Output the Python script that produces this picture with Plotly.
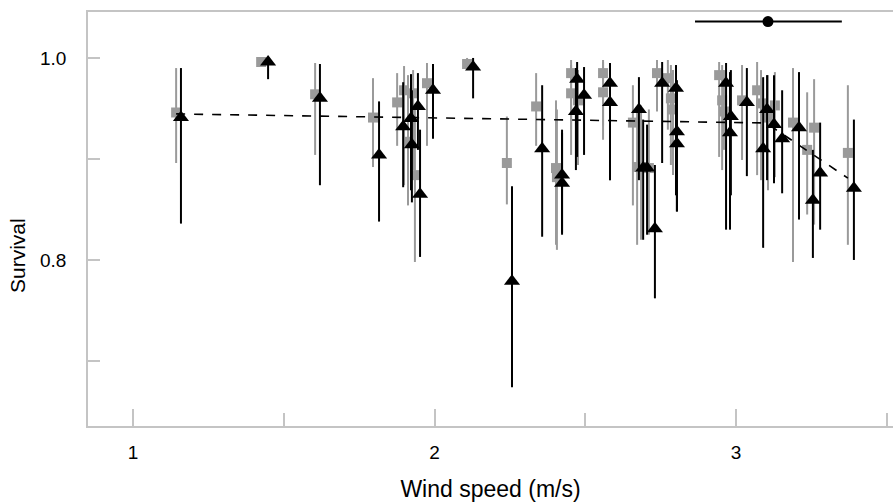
import plotly.graph_objects as go

# Gray squares series: wind speed, survival, lower CI, upper CI
sq_wind = [1.143, 1.425, 1.604, 1.796, 1.876, 1.899, 1.912, 1.929, 1.935, 1.975,
           2.108, 2.240, 2.337, 2.403, 2.406, 2.453, 2.453, 2.476, 2.559, 2.559,
           2.658, 2.672, 2.685, 2.711, 2.738, 2.774, 2.784, 2.791, 2.944, 2.954,
           2.960, 3.020, 3.070, 3.083, 3.106, 3.129, 3.189, 3.236, 3.259, 3.371]
sq_surv = [0.946, 0.996, 0.964, 0.941, 0.956, 0.968, 0.917, 0.965, 0.884, 0.975,
           0.994, 0.896, 0.952, 0.891, 0.882, 0.985, 0.965, 0.958, 0.985, 0.966,
           0.936, 0.892, 0.892, 0.891, 0.985, 0.980, 0.960, 0.949, 0.983, 0.958,
           0.947, 0.958, 0.968, 0.955, 0.941, 0.953, 0.936, 0.909, 0.931, 0.906]
sq_lo = [0.896, 0.994, 0.904, 0.892, 0.913, 0.874, 0.854, 0.889, 0.798, 0.913,
         0.988, 0.855, 0.913, 0.815, 0.810, 0.929, 0.904, 0.894, 0.933, 0.919,
         0.854, 0.815, 0.820, 0.825, 0.947, 0.929, 0.894, 0.884, 0.902, 0.889,
         0.909, 0.899, 0.884, 0.879, 0.869, 0.882, 0.798, 0.845, 0.835, 0.815]
sq_hi = [0.990, 0.998, 0.995, 0.980, 0.985, 0.992, 0.983, 0.988, 0.949, 0.995,
         1.000, 0.942, 0.985, 0.958, 0.949, 0.998, 0.993, 0.988, 0.998, 0.996,
         0.973, 0.949, 0.953, 0.949, 0.998, 0.998, 0.993, 0.988, 0.996, 0.993,
         0.988, 0.993, 0.996, 0.988, 0.983, 0.986, 0.990, 0.966, 0.979, 0.973]

# Black triangles series
tri_wind = [1.159, 1.448, 1.620, 1.816, 1.896, 1.922, 1.925, 1.945, 1.952, 1.995,
            2.128, 2.257, 2.357, 2.423, 2.423, 2.473, 2.469, 2.496, 2.582, 2.582,
            2.678, 2.692, 2.705, 2.731, 2.755, 2.801, 2.804, 2.804, 2.967, 2.983,
            2.980, 3.036, 3.090, 3.103, 3.126, 3.153, 3.209, 3.255, 3.279, 3.391]
tri_surv = [0.941, 0.996, 0.960, 0.904, 0.932, 0.940, 0.914, 0.952, 0.865, 0.968,
            0.991, 0.779, 0.910, 0.884, 0.876, 0.979, 0.947, 0.963, 0.975, 0.956,
            0.949, 0.891, 0.891, 0.831, 0.975, 0.970, 0.927, 0.915, 0.975, 0.942,
            0.926, 0.956, 0.910, 0.949, 0.934, 0.920, 0.931, 0.859, 0.886, 0.871]
tri_lo = [0.836, 0.979, 0.874, 0.838, 0.872, 0.869, 0.857, 0.909, 0.803, 0.920,
          0.960, 0.674, 0.823, 0.827, 0.825, 0.902, 0.889, 0.904, 0.879, 0.879,
          0.879, 0.820, 0.825, 0.762, 0.896, 0.864, 0.848, 0.848, 0.830, 0.864,
          0.830, 0.883, 0.812, 0.879, 0.876, 0.866, 0.840, 0.802, 0.830, 0.800]
tri_hi = [0.990, 1.000, 0.994, 0.957, 0.976, 0.984, 0.968, 0.985, 0.929, 0.994,
          1.000, 0.873, 0.973, 0.929, 0.926, 0.996, 0.990, 0.991, 0.995, 0.988,
          0.981, 0.939, 0.934, 0.894, 0.996, 0.993, 0.978, 0.973, 0.995, 0.988,
          0.986, 0.990, 0.981, 0.983, 0.983, 0.968, 0.986, 0.909, 0.936, 0.939]

# Fitted (dashed) curve
fit_wind = [1.143, 3.100, 3.371]
fit_surv = [0.9446, 0.9356, 0.881]

# Mean wind speed with range (top point)
mean_wind = [3.106]
mean_surv = [1.036]
mean_wind_lo = [2.864]
mean_wind_hi = [3.351]

GRAY = "#9a9a9a"
AXIS = "#c4c4c4"

fig = go.Figure()

fig.add_trace(go.Scatter(
    x=sq_wind, y=sq_surv, mode="markers",
    marker=dict(symbol="square", size=10, color=GRAY),
    error_y=dict(type="data", symmetric=False,
                 array=[h - v for h, v in zip(sq_hi, sq_surv)],
                 arrayminus=[v - l for v, l in zip(sq_surv, sq_lo)],
                 color=GRAY, thickness=2, width=0),
    showlegend=False, hoverinfo="skip"))

fig.add_trace(go.Scatter(
    x=fit_wind, y=fit_surv, mode="lines",
    line=dict(color="black", width=1.6, dash="dash"),
    showlegend=False, hoverinfo="skip"))

fig.add_trace(go.Scatter(
    x=tri_wind, y=tri_surv, mode="markers",
    marker=dict(symbol="triangle-up", size=14, color="black"),
    error_y=dict(type="data", symmetric=False,
                 array=[h - v for h, v in zip(tri_hi, tri_surv)],
                 arrayminus=[v - l for v, l in zip(tri_surv, tri_lo)],
                 color="black", thickness=2, width=0),
    showlegend=False, hoverinfo="skip"))

fig.add_trace(go.Scatter(
    x=mean_wind, y=mean_surv, mode="markers",
    marker=dict(symbol="circle", size=11, color="black"),
    error_x=dict(type="data", symmetric=False,
                 array=[h - m for h, m in zip(mean_wind_hi, mean_wind)],
                 arrayminus=[m - l for m, l in zip(mean_wind, mean_wind_lo)],
                 color="black", thickness=2, width=0),
    showlegend=False, hoverinfo="skip"))

font_family = "Liberation Sans, Arial, sans-serif"

fig.update_layout(
    width=893, height=502,
    margin=dict(l=88, r=0, t=12, b=76),
    paper_bgcolor="white", plot_bgcolor="white",
    font=dict(family=font_family, color="black"),
    xaxis=dict(
        range=[0.8507, 3.5207],
        showgrid=False, zeroline=False,
        showline=True, linecolor=AXIS, linewidth=1.5, mirror=True,
        ticks="inside", ticklen=17, tickwidth=1.5, tickcolor=AXIS,
        tickvals=[1, 2, 3], ticktext=["1", "2", "3"],
        tickfont=dict(size=19), ticklabelstandoff=8,
        minor=dict(tickvals=[1.5, 2.5, 3.5], ticks="inside", ticklen=13,
                   tickwidth=1.5, tickcolor=AXIS),
        title=dict(text="Wind speed (m/s)", font=dict(size=23), standoff=21),
    ),
    yaxis=dict(
        range=[0.6356, 1.0455],
        showgrid=False, zeroline=False,
        showline=True, linecolor=AXIS, linewidth=1.5,
        ticks="inside", ticklen=12, tickwidth=1.5, tickcolor=AXIS,
        tickvals=[0.7, 0.8, 0.9, 1.0], ticktext=["", "0.8", "", "1.0"],
        tickfont=dict(size=19), ticklabelstandoff=16,
    ),
    annotations=[dict(
        text="Survival", textangle=-90, showarrow=False,
        xref="paper", yref="paper",
        x=-70 / 805, y=(426 - 256) / 414,
        xanchor="center", yanchor="middle",
        font=dict(size=21, family=font_family, color="black"),
    )],
)

fig.write_html(
    "out.html",
    config={"displayModeBar": False},
    post_script="document.body.style.margin='0';document.body.style.overflow='hidden';",
)
